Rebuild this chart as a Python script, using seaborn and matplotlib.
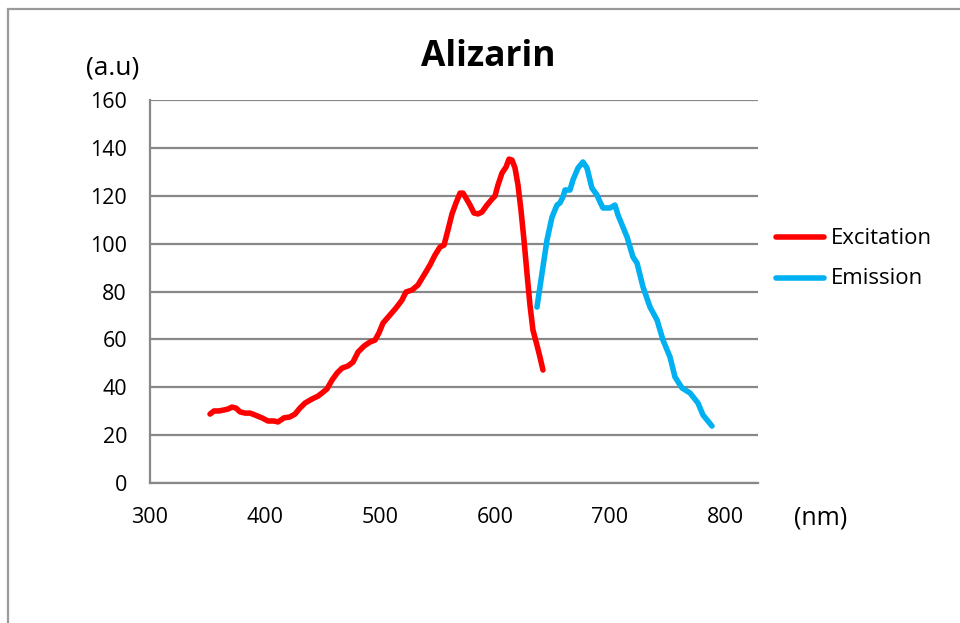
import matplotlib
matplotlib.use("Agg")
import matplotlib.pyplot as plt
from matplotlib.lines import Line2D
from matplotlib.patches import Rectangle
import pandas as pd
import seaborn as sns

# Excitation spectrum (nm, a.u.)
exc_nm = [352.2, 355.7, 360.0, 364.3, 367.8, 371.3, 374.8, 378.3, 382.6, 387.0,
          391.3, 397.4, 402.6, 407.8, 411.3, 416.5, 421.7, 426.1, 430.4, 434.8,
          440.9, 446.1, 449.6, 453.9, 458.3, 462.6, 467.0, 472.2, 476.5, 480.9,
          486.1, 491.3, 495.7, 499.1, 502.6, 508.7, 513.9, 519.1, 522.6, 527.8,
          533.0, 538.3, 543.5, 547.8, 552.2, 555.7, 559.1, 562.6, 566.1, 569.6,
          572.2, 574.8, 578.3, 581.7, 585.2, 588.7, 593.0, 597.4, 600.0, 602.6,
          606.1, 609.6, 612.2, 614.8, 617.4, 620.0, 622.6, 625.2, 627.8, 630.4,
          633.0, 636.5, 639.1, 641.7]
exc_val = [28.8, 30.1, 30.1, 30.5, 30.9, 31.7, 31.3, 29.7, 29.2, 29.2,
           28.4, 27.2, 25.9, 25.9, 25.5, 27.2, 27.6, 28.8, 31.3, 33.4,
           35.1, 36.3, 37.6, 39.3, 43.0, 45.9, 48.0, 48.9, 50.5, 54.7,
           57.2, 58.9, 59.7, 62.7, 66.8, 70.2, 73.1, 76.4, 79.8, 80.6,
           82.7, 86.9, 91.1, 95.2, 98.6, 99.4, 105.7, 112.4, 117.0, 121.1,
           121.1, 119.0, 116.1, 112.8, 112.4, 113.2, 116.1, 118.6, 119.9, 124.5,
           129.5, 132.0, 135.3, 134.9, 131.6, 124.5, 114.0, 101.5, 87.7, 74.4,
           63.9, 57.6, 52.6, 47.2]

# Emission spectrum (nm, a.u.)
emi_nm = [636.5, 640.9, 645.2, 649.6, 653.9, 656.5, 659.1, 660.9, 665.2, 667.8,
          672.2, 676.5, 680.0, 684.3, 688.7, 691.3, 693.9, 700.0, 704.3, 707.0,
          714.8, 720.0, 723.5, 728.7, 734.8, 740.9, 746.1, 752.2, 756.5, 762.6,
          769.6, 776.5, 780.9, 788.7]
emi_val = [73.5, 87.7, 101.5, 111.1, 116.1, 117.0, 119.5, 122.4, 122.4, 126.6,
           131.6, 134.1, 131.6, 123.2, 120.3, 117.4, 114.9, 114.9, 116.1, 111.9,
           102.8, 94.4, 91.9, 81.9, 73.5, 68.1, 59.7, 52.6, 44.3, 39.7,
           37.6, 33.4, 28.4, 23.8]

series_names = ["Excitation", "Emission"]
series_colors = ["#FF0000", "#00B0F0"]
x_ticks = [300, 400, 500, 600, 700, 800]
y_ticks = [0, 20, 40, 60, 80, 100, 120, 140, 160]

df = pd.concat([
    pd.DataFrame({"nm": exc_nm, "val": exc_val, "series": series_names[0]}),
    pd.DataFrame({"nm": emi_nm, "val": emi_val, "series": series_names[1]}),
])

sns.set_theme(style="white")
plt.rcParams["font.family"] = ["Open Sans", "DejaVu Sans"]

W, H = 960, 623
fig = plt.figure(figsize=(W / 100, H / 100), dpi=100)
ax = fig.add_axes([150 / W, 1 - 483 / H, 608 / W, 383 / H])

palette = dict(zip(series_names, series_colors))
sns.lineplot(data=df, x="nm", y="val", hue="series", palette=palette,
             estimator=None, sort=False, linewidth=4.0, ax=ax, legend=False,
             solid_capstyle="round", solid_joinstyle="round", zorder=3)

grid_c = "#888888"
ax.set_xlim(300, 828.7)
ax.set_ylim(0, 160)
ax.set_xticks(x_ticks)
ax.set_yticks(y_ticks)
ax.yaxis.grid(True, color=grid_c, linewidth=1.6)
ax.set_axisbelow(True)
for s in ["top", "right"]:
    ax.spines[s].set_visible(False)
for s in ["left", "bottom"]:
    ax.spines[s].set_color(grid_c)
    ax.spines[s].set_linewidth(1.6)
ax.tick_params(axis="both", which="major", direction="out", length=5.5,
               width=1.2, color=grid_c, labelsize=15.5, labelcolor="#000000")
ax.tick_params(axis="y", pad=11)
ax.tick_params(axis="x", pad=11.5)
ax.set_xlabel("")
ax.set_ylabel("")

fig.text(488 / W, 1 - 66 / H, "Alizarin", ha="center", va="baseline",
         fontsize=25.5, fontweight="bold", color="#000000")
fig.text(113 / W, 1 - 68 / H, "(a.u)", ha="center", va="center",
         fontsize=19, color="#000000")
fig.text(821 / W, 1 - 518 / H, "(nm)", ha="center", va="center",
         fontsize=18, color="#000000")

# legend entries
for name, color, y_line, y_base in zip(series_names, series_colors,
                                       [236.5, 277.5], [244, 284]):
    fig.add_artist(Line2D([776 / W, 824 / W], [1 - y_line / H, 1 - y_line / H],
                          transform=fig.transFigure, color=color,
                          linewidth=4.0, solid_capstyle="round"))
    fig.text(831 / W, 1 - y_base / H, name, ha="left", va="baseline",
             fontsize=16, color="#000000")

# outer chart frame
fig.patches.append(Rectangle((8 / W, -0.5), 1.5, 0.5 + (1 - 9 / H),
                             transform=fig.transFigure, fill=False,
                             edgecolor="#9A9A9A", linewidth=1.6))

fig.savefig("out.png", dpi=100)
